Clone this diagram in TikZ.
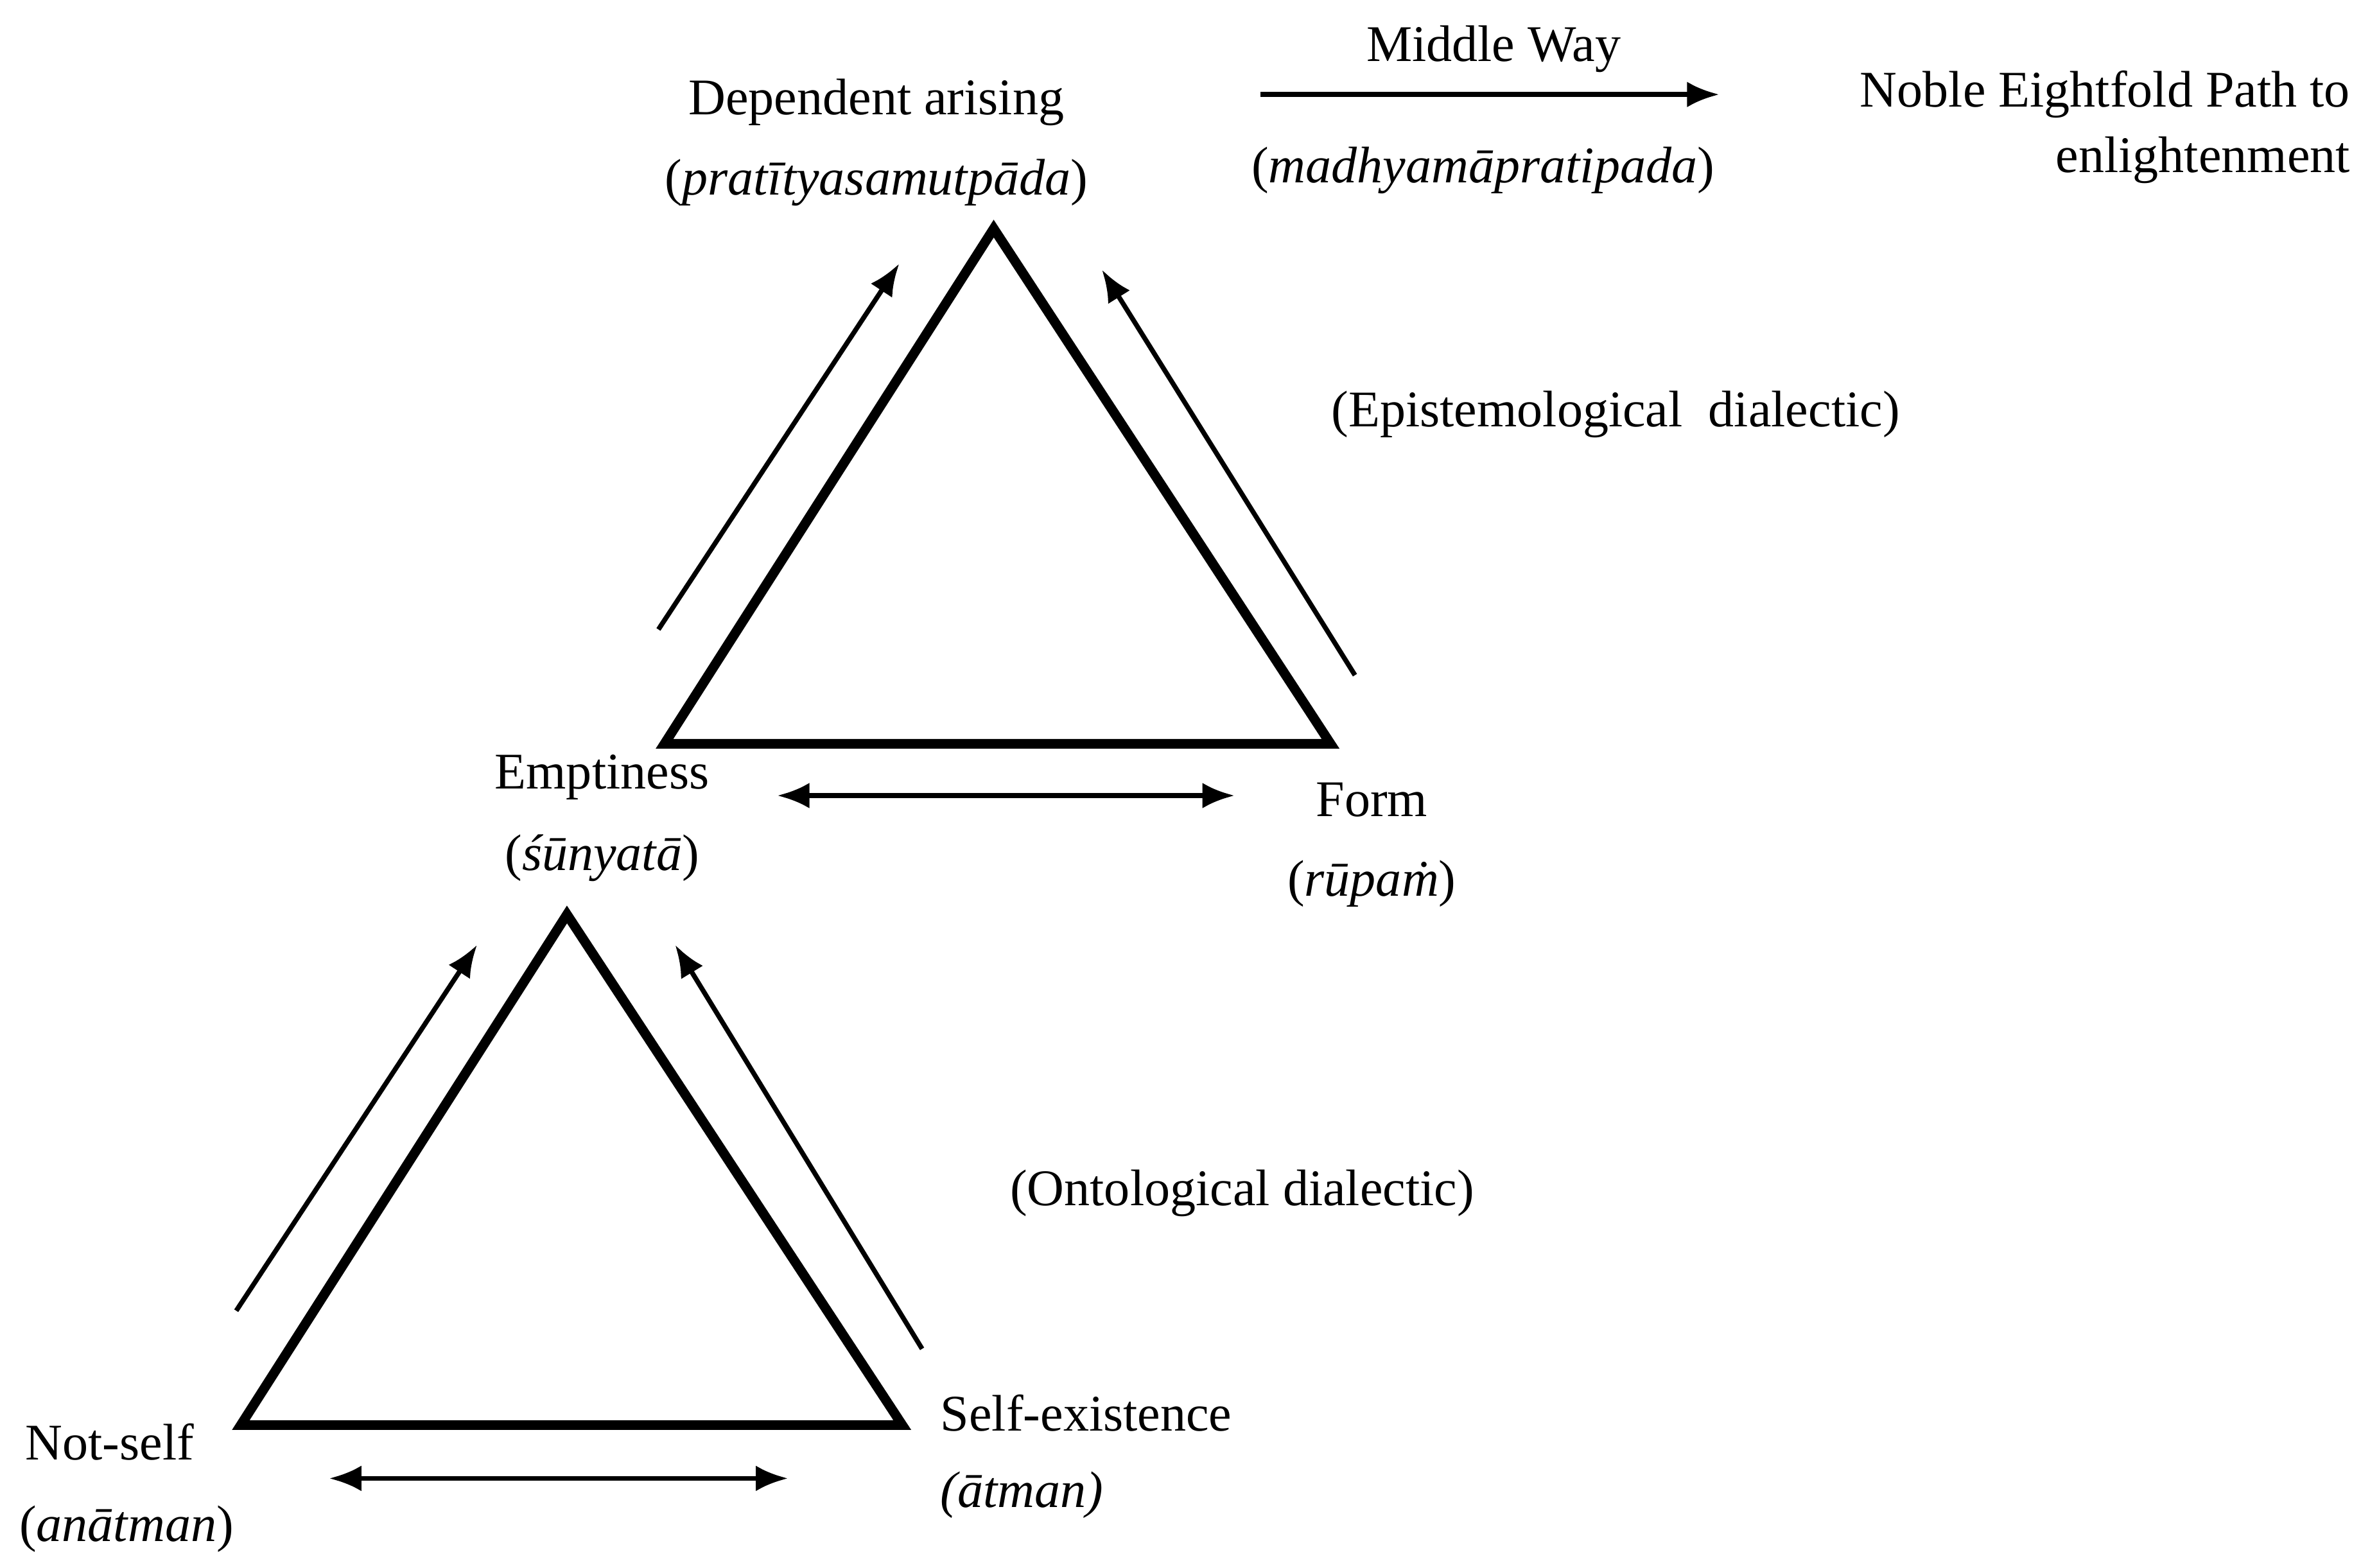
\documentclass[tikz,border=0pt]{standalone}
\usepackage{fontspec}
\setmainfont{Liberation Serif}
\usetikzlibrary{arrows.meta}
\begin{document}
\begin{tikzpicture}[x=0.05cm,y=-0.05cm,
  tri/.style={line width=9pt,line join=miter},
  arr/.style={line width=4.5pt,-{Latex[length=30pt,width=24pt]}},
  darr/.style={line width=4.5pt,{Latex[length=30pt,width=24pt]}-{Latex[length=30pt,width=24pt]}},
  lab/.style={font=\fontsize{48}{56}\selectfont,inner sep=0pt}]
\useasboundingbox (0,0) rectangle (1555,1028.4);
% upper triangle
\coordinate (ua) at (652,150); \coordinate (ul) at (436,488); \coordinate (ur) at (873,488);
\draw[tri] (ua)--(ul)--(ur)--cycle;
\coordinate (u1s) at (432,413); \coordinate (u1e) at (590,173);
\coordinate (u2s) at (889,443); \coordinate (u2e) at (723,177);
\draw[arr] (u1s)--(u1e); \draw[arr] (u2s)--(u2e);
\coordinate (ud1) at (510,522); \coordinate (ud2) at (810,522);
\draw[darr] (ud1)--(ud2);
% lower triangle
\coordinate (la) at (372,600); \coordinate (ll) at (158,935); \coordinate (lr) at (592,935);
\draw[tri] (la)--(ll)--(lr)--cycle;
\coordinate (l1s) at (155,860); \coordinate (l1e) at (313,620);
\coordinate (l2s) at (605,885); \coordinate (l2e) at (443,620);
\draw[arr] (l1s)--(l1e); \draw[arr] (l2s)--(l2e);
\coordinate (ld1) at (216,970); \coordinate (ld2) at (517,970);
\draw[darr] (ld1)--(ld2);
% middle way
\coordinate (m1) at (827,62); \coordinate (m2) at (1128,62);
\draw[arr] (m1)--(m2);
% labels
\node[lab] (t1) at (575,67) {Dependent arising};
\node[lab] (t2) at (575,120) {(\textit{pratītyasamutpāda})};
\node[lab] (t3) at (980,32) {Middle Way};
\node[lab] (t4) at (973,112) {(\textit{madhyamāpratipada})};
\node[lab,anchor=east] (t5) at (1542,62) {Noble Eightfold Path to};
\node[lab,anchor=east] (t6) at (1542,105) {enlightenment};
\node[lab] (t7) at (1060,272) {(Epistemological\ \ dialectic)};
\node[lab] (t8) at (395,510) {Emptiness};
\node[lab] (t9) at (395,563) {(\textit{śūnyatā})};
\node[lab] (t10) at (900,525) {Form};
\node[lab] (t11) at (900,580) {(\textit{rūpaṁ})};
\node[lab] (t12) at (815,783) {(Ontological dialectic)};
\node[lab] (t13) at (72,946) {Not-self};
\node[lab] (t14) at (83,1003) {(\textit{anātman})};
\node[lab,anchor=west] (t15) at (617,927) {Self-existence};
\node[lab,anchor=west] (t16) at (617,981) {\textit{(ātman)}};
\end{tikzpicture}
\end{document}
